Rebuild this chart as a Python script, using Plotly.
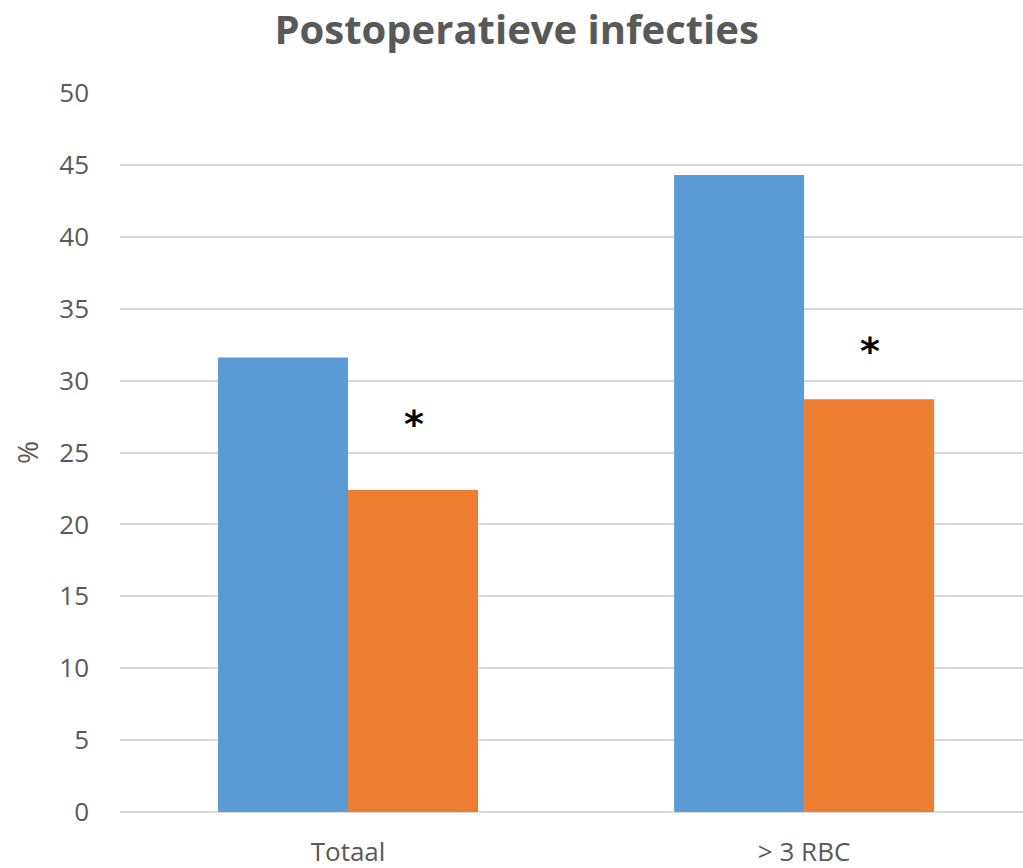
import plotly.graph_objects as go

# Data
categories = ["Totaal", "> 3 RBC"]
series_blue = [31.6, 44.3]
series_orange = [22.4, 28.7]
# significance markers above the orange bars (value on the % scale)
star_labels = ["*", "*"]
star_values = [27.4, 32.5]

y_ticks = [0, 5, 10, 15, 20, 25, 30, 35, 40, 45, 50]

BLUE = "#5B9BD5"
ORANGE = "#ED7D31"
GREY = "#595959"
GRID = "#D9D9D9"
FONT = "Open Sans"

fig = go.Figure()
fig.add_trace(go.Bar(x=categories, y=series_blue, marker_color=BLUE,
                     marker_line_width=0, name="A"))
fig.add_trace(go.Bar(x=categories, y=series_orange, marker_color=ORANGE,
                     marker_line_width=0, name="B"))

for cat, val, lab in zip(categories, star_values, star_labels):
    fig.add_annotation(x=cat, y=val, text="<b>" + lab + "</b>", showarrow=False,
                       xshift=66, yshift=-6,
                       font=dict(family="DejaVu Sans", size=38, color="#000000"))

fig.update_layout(
    width=1023, height=868,
    paper_bgcolor="white", plot_bgcolor="white",
    margin=dict(l=120, r=0, t=93, b=56),
    barmode="group", bargap=0.43, bargroupgap=0,
    showlegend=False,
    title=dict(text="<b>Postoperatieve infecties</b>", x=0.505, xanchor="center",
               y=0.966, yanchor="middle",
               font=dict(family=FONT, size=40, color=GREY)),
    font=dict(family=FONT, color=GREY),
)

fig.update_xaxes(range=[-0.5, 1.48], showgrid=False, showline=False, ticks="",
                 ticklabelstandoff=22,
                 tickfont=dict(family=FONT, size=26, color=GREY))
fig.update_yaxes(range=[0, 50], tickvals=y_ticks, showgrid=True, gridcolor=GRID,
                 gridwidth=2, zeroline=True, zerolinecolor=GRID, zerolinewidth=2,
                 ticks="", ticklabelstandoff=30,
                 tickfont=dict(family=FONT, size=26, color=GREY),
                 title=dict(text="%", standoff=12,
                            font=dict(family=FONT, size=28, color=GREY)))

fig.write_html("out.html")
